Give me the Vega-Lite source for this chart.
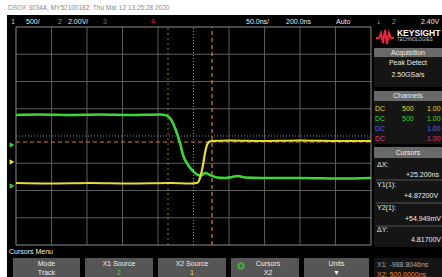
{
 "$schema": "https://vega.github.io/schema/vega-lite/v6.json",
 "width": 442, "height": 277, "autosize": {"type": "none"}, "padding": 0,
 "background": "#ffffff",
 "config": {"view": {"stroke": null}, "text": {"font": "Liberation Sans"}},
 "datasets": {
  "panels": [
   {"x": -5.254, "x2": 7.0, "y": 4.44, "y2": -5.174, "k": "bg"},
   {"x": 5.085, "x2": 7.0, "y": 3.229, "y2": 2.899, "k": "head"},
   {"x": 5.085, "x2": 7.0, "y": 2.899, "y2": 1.798, "k": "body"},
   {"x": 5.085, "x2": 7.0, "y": 1.651, "y2": 1.284, "k": "head"},
   {"x": 5.085, "x2": 7.0, "y": 1.284, "y2": -0.294, "k": "body"},
   {"x": 5.085, "x2": 7.0, "y": -0.404, "y2": -0.807, "k": "head"},
   {"x": 5.085, "x2": 7.0, "y": -0.807, "y2": -4.073, "k": "body"},
   {"x": 5.085, "x2": 7.0, "y": -4.477, "y2": -5.174, "k": "body"},
   {"x": -5.085, "x2": -3.197, "y": -4.477, "y2": -5.174, "k": "btn"},
   {"x": -3.056, "x2": -1.141, "y": -4.477, "y2": -5.174, "k": "btn"},
   {"x": -1.0, "x2": 0.915, "y": -4.477, "y2": -5.174, "k": "btn"},
   {"x": 1.056, "x2": 2.972, "y": -4.477, "y2": -5.174, "k": "btn"},
   {"x": 3.113, "x2": 4.944, "y": -4.477, "y2": -5.174, "k": "btn"}
  ],
  "grid": [
   {"x": -4, "x2": -4, "y": -4, "y2": 4}, {"x": -3, "x2": -3, "y": -4, "y2": 4},
   {"x": -2, "x2": -2, "y": -4, "y2": 4}, {"x": -1, "x2": -1, "y": -4, "y2": 4},
   {"x": 1, "x2": 1, "y": -4, "y2": 4}, {"x": 2, "x2": 2, "y": -4, "y2": 4},
   {"x": 3, "x2": 3, "y": -4, "y2": 4}, {"x": 4, "x2": 4, "y": -4, "y2": 4},
   {"x": -5, "x2": 5, "y": -3, "y2": -3}, {"x": -5, "x2": 5, "y": -2, "y2": -2},
   {"x": -5, "x2": 5, "y": -1, "y2": -1}, {"x": -5, "x2": 5, "y": 1, "y2": 1},
   {"x": -5, "x2": 5, "y": 2, "y2": 2}, {"x": -5, "x2": 5, "y": 3, "y2": 3}
  ],
  "center": [
   {"x": 0, "x2": 0, "y": -4, "y2": 4}, {"x": -5, "x2": 5, "y": 0, "y2": 0}
  ],
  "frame": [{"x": -5, "x2": 5, "y": -4, "y2": 4}],
  "curMain": [
   {"x": -5, "x2": 5, "y": -0.22, "y2": -0.22},
   {"x": 0.521, "x2": 0.521, "y": -4, "y2": 4}
  ],
  "curX1": [{"x": -0.718, "x2": -0.718, "y": -4, "y2": 4}],
  "sep": [
   {"x": 5.141, "x2": 7.0, "y": -1.615, "y2": -1.615},
   {"x": 5.141, "x2": 7.0, "y": -2.459, "y2": -2.459},
   {"x": 5.141, "x2": 7.0, "y": -3.303, "y2": -3.303}
  ],
  "ch2": [
   {"x": -5.0, "y": 0.771}, {"x": -4.324, "y": 0.789}, {"x": -3.479, "y": 0.771},
   {"x": -2.634, "y": 0.789}, {"x": -1.789, "y": 0.771}, {"x": -0.944, "y": 0.789},
   {"x": -0.803, "y": 0.771}, {"x": -0.662, "y": 0.661}, {"x": -0.521, "y": 0.294},
   {"x": -0.38, "y": -0.257}, {"x": -0.296, "y": -0.697}, {"x": -0.155, "y": -1.064},
   {"x": -0.014, "y": -1.284}, {"x": 0.127, "y": -1.431}, {"x": 0.211, "y": -1.45},
   {"x": 0.324, "y": -1.358}, {"x": 0.465, "y": -1.431}, {"x": 0.662, "y": -1.523},
   {"x": 0.887, "y": -1.541}, {"x": 1.085, "y": -1.505}, {"x": 1.254, "y": -1.468},
   {"x": 1.451, "y": -1.523}, {"x": 1.873, "y": -1.541}, {"x": 3.0, "y": -1.541},
   {"x": 4.127, "y": -1.56}, {"x": 5.0, "y": -1.541}
  ],
  "ch1": [
   {"x": -5.0, "y": -1.725}, {"x": -4.042, "y": -1.743}, {"x": -2.915, "y": -1.725},
   {"x": -1.789, "y": -1.743}, {"x": -0.662, "y": -1.725}, {"x": -0.099, "y": -1.743},
   {"x": 0.099, "y": -1.725}, {"x": 0.183, "y": -1.541}, {"x": 0.268, "y": -1.064},
   {"x": 0.324, "y": -0.624}, {"x": 0.38, "y": -0.33}, {"x": 0.437, "y": -0.22},
   {"x": 0.521, "y": -0.183}, {"x": 1.028, "y": -0.165}, {"x": 1.873, "y": -0.183},
   {"x": 3.0, "y": -0.165}, {"x": 4.127, "y": -0.183}, {"x": 5.0, "y": -0.183}
  ],
  "logo": [
   {"x": 5.141, "y": 3.596}, {"x": 5.225, "y": 3.596}, {"x": 5.282, "y": 3.78},
   {"x": 5.338, "y": 3.413}, {"x": 5.394, "y": 3.89}, {"x": 5.451, "y": 3.376},
   {"x": 5.507, "y": 3.78}, {"x": 5.563, "y": 3.596}, {"x": 5.648, "y": 3.596}
  ],
  "markers": [
   {"x": -5.113, "y": -0.954, "k": "ch1"},
   {"x": -5.113, "y": -1.835, "k": "ch2"},
   {"x": -5.113, "y": -0.33, "k": "ch2"}
  ],
  "ring": [{"x": 1.338, "y": -4.771}],
  "title": [{"x": -5.225, "y": 4.697, "t": "DSOX 3034A, MY52100182: Thu Mar 12 13:25:28 2020"}],
  "tLeft": [
   {"x": -5.141, "y": 4.183, "t": "1", "k": "ch1"},
   {"x": -4.718, "y": 4.183, "t": "500/", "k": "white"},
   {"x": -3.817, "y": 4.183, "t": "2", "k": "ch2"},
   {"x": -3.535, "y": 4.183, "t": "2.00V/", "k": "white"},
   {"x": -2.549, "y": 4.183, "t": "3", "k": "ch3"},
   {"x": -1.197, "y": 4.183, "t": "4", "k": "red"},
   {"x": 1.479, "y": 4.183, "t": "50.0ns/", "k": "white"},
   {"x": 2.606, "y": 4.183, "t": "200.0ns", "k": "white"},
   {"x": 4.014, "y": 4.183, "t": "Auto", "k": "white"},
   {"x": 5.169, "y": 4.183, "t": "↓", "k": "white"},
   {"x": 5.592, "y": 4.183, "t": "2", "k": "ch2"},
   {"x": 6.408, "y": 4.183, "t": "2.40V", "k": "white"},
   {"x": 5.113, "y": 0.991, "t": "DC", "k": "ch1"},
   {"x": 5.873, "y": 0.991, "t": "500", "k": "ch1"},
   {"x": 6.577, "y": 0.991, "t": "1.00", "k": "ch1"},
   {"x": 5.113, "y": 0.624, "t": "DC", "k": "ch2"},
   {"x": 5.873, "y": 0.624, "t": "500", "k": "ch2"},
   {"x": 6.577, "y": 0.624, "t": "1.00", "k": "ch2"},
   {"x": 5.113, "y": 0.257, "t": "DC", "k": "ch3"},
   {"x": 6.577, "y": 0.257, "t": "1.00", "k": "ch3"},
   {"x": 5.113, "y": -0.11, "t": "DC", "k": "ch4"},
   {"x": 6.577, "y": -0.11, "t": "1.00", "k": "ch4"},
   {"x": 5.169, "y": -1.064, "t": "ΔX:", "k": "white"},
   {"x": 5.986, "y": -1.431, "t": "+25.200ns", "k": "white"},
   {"x": 5.169, "y": -1.798, "t": "Y1(1):", "k": "white"},
   {"x": 5.93, "y": -2.202, "t": "+4.87200V", "k": "white"},
   {"x": 5.169, "y": -2.642, "t": "Y2(1):", "k": "white"},
   {"x": 5.958, "y": -3.046, "t": "+54.949mV", "k": "white"},
   {"x": 5.169, "y": -3.45, "t": "ΔY:", "k": "white"},
   {"x": 6.127, "y": -3.817, "t": "4.81700V", "k": "white"},
   {"x": 5.169, "y": -4.734, "t": "X1: -988.8046ns", "k": "gray"},
   {"x": 5.169, "y": -5.083, "t": "X2: 500.0000ns", "k": "orange"},
   {"x": -5.197, "y": -4.257, "t": "Cursors Menu", "k": "white"}
  ],
  "tCenter": [
   {"x": 6.042, "y": 3.064, "t": "Acquisition", "k": "white"},
   {"x": 6.042, "y": 2.679, "t": "Peak Detect", "k": "white"},
   {"x": 6.042, "y": 2.239, "t": "2.50GSa/s", "k": "white"},
   {"x": 6.042, "y": 1.468, "t": "Channels", "k": "white"},
   {"x": 6.042, "y": -0.606, "t": "Cursors", "k": "white"},
   {"x": -4.141, "y": -4.697, "t": "Mode", "k": "white"},
   {"x": -4.141, "y": -5.028, "t": "Track", "k": "white"},
   {"x": -2.099, "y": -4.697, "t": "X1 Source", "k": "white"},
   {"x": -2.099, "y": -5.028, "t": "2", "k": "ch2"},
   {"x": -0.042, "y": -4.697, "t": "X2 Source", "k": "white"},
   {"x": -0.042, "y": -5.028, "t": "1", "k": "ch1"},
   {"x": 2.099, "y": -4.697, "t": "Cursors", "k": "white"},
   {"x": 2.099, "y": -5.028, "t": "X2", "k": "white"},
   {"x": 4.028, "y": -4.697, "t": "Units", "k": "white"},
   {"x": 4.028, "y": -5.028, "t": "▼", "k": "white"}
  ],
  "brand": [{"x": 5.732, "y": 3.78, "t": "KEYSIGHT"}],
  "brand2": [{"x": 5.732, "y": 3.523, "t": "TECHNOLOGIES"}]
 },
 "encoding": {
  "x": {"field": "x", "type": "quantitative", "scale": {"domain": [-5.4507, 7.0], "nice": false, "zero": false}, "axis": null},
  "y": {"field": "y", "type": "quantitative", "scale": {"domain": [-5.1743, 4.9908], "nice": false, "zero": false}, "axis": null}
 },
 "layer": [
  {"data": {"name": "panels"}, "mark": {"type": "rect"},
   "encoding": {"x2": {"field": "x2"}, "y2": {"field": "y2"},
    "color": {"field": "k", "type": "nominal", "legend": null,
     "scale": {"domain": ["bg", "head", "body", "btn", "white", "gray", "ch1", "ch2", "ch3", "ch4", "red", "orange"], "range": ["#000000", "#6a6a6a", "#151515", "#565656", "#ececec", "#a8a8b8", "#e8dc34", "#3fd43a", "#5060ff", "#e0307a", "#e8283c", "#e8892a"]}}}},
  {"data": {"name": "grid"}, "mark": {"type": "rule", "color": "#5e5e5e", "strokeWidth": 1},
   "encoding": {"x2": {"field": "x2"}, "y2": {"field": "y2"}}},
  {"data": {"name": "center"}, "mark": {"type": "rule", "color": "#8a8a8a", "strokeWidth": 1, "strokeDash": [1, 2]},
   "encoding": {"x2": {"field": "x2"}, "y2": {"field": "y2"}}},
  {"data": {"name": "frame"}, "mark": {"type": "rect", "fill": null, "stroke": "#8c8c8c", "strokeWidth": 1},
   "encoding": {"x2": {"field": "x2"}, "y2": {"field": "y2"}}},
  {"data": {"name": "sep"}, "mark": {"type": "rule", "color": "#555555", "strokeWidth": 1},
   "encoding": {"x2": {"field": "x2"}, "y2": {"field": "y2"}}},
  {"data": {"name": "curX1"}, "mark": {"type": "rule", "color": "#9a6a30", "strokeWidth": 1, "strokeDash": [2, 3]},
   "encoding": {"x2": {"field": "x2"}, "y2": {"field": "y2"}}},
  {"data": {"name": "curMain"}, "mark": {"type": "rule", "color": "#e0802a", "strokeWidth": 1.2, "strokeDash": [4, 3]},
   "encoding": {"x2": {"field": "x2"}, "y2": {"field": "y2"}}},
  {"data": {"name": "ch2"}, "mark": {"type": "line", "color": "#3fd43a", "strokeWidth": 2.6, "interpolate": "monotone"}, "encoding": {}},
  {"data": {"name": "ch1"}, "mark": {"type": "line", "color": "#e8dc34", "strokeWidth": 2.2, "interpolate": "monotone"}, "encoding": {}},
  {"data": {"name": "logo"}, "mark": {"type": "line", "color": "#e8283c", "strokeWidth": 2}, "encoding": {}},
  {"data": {"name": "markers"}, "mark": {"type": "point", "shape": "triangle-right", "filled": true, "size": 30, "opacity": 1},
   "encoding": {"color": {"field": "k", "type": "nominal", "legend": null,
     "scale": {"domain": ["bg", "head", "body", "btn", "white", "gray", "ch1", "ch2", "ch3", "ch4", "red", "orange"], "range": ["#000000", "#6a6a6a", "#151515", "#565656", "#ececec", "#a8a8b8", "#e8dc34", "#3fd43a", "#5060ff", "#e0307a", "#e8283c", "#e8892a"]}}}},
  {"data": {"name": "ring"}, "mark": {"type": "point", "shape": "circle", "filled": false, "size": 28, "color": "#3fd43a", "strokeWidth": 2}},
  {"data": {"name": "title"}, "mark": {"type": "text", "align": "left", "baseline": "middle", "fontSize": 6.5, "color": "#8a8a8a"},
   "encoding": {"text": {"field": "t"}}},
  {"data": {"name": "tLeft"}, "mark": {"type": "text", "align": "left", "baseline": "middle", "fontSize": 7},
   "encoding": {"text": {"field": "t"}, "color": {"field": "k", "type": "nominal", "legend": null,
     "scale": {"domain": ["bg", "head", "body", "btn", "white", "gray", "ch1", "ch2", "ch3", "ch4", "red", "orange"], "range": ["#000000", "#6a6a6a", "#151515", "#565656", "#ececec", "#a8a8b8", "#e8dc34", "#3fd43a", "#5060ff", "#e0307a", "#e8283c", "#e8892a"]}}}},
  {"data": {"name": "tCenter"}, "mark": {"type": "text", "align": "center", "baseline": "middle", "fontSize": 7},
   "encoding": {"text": {"field": "t"}, "color": {"field": "k", "type": "nominal", "legend": null,
     "scale": {"domain": ["bg", "head", "body", "btn", "white", "gray", "ch1", "ch2", "ch3", "ch4", "red", "orange"], "range": ["#000000", "#6a6a6a", "#151515", "#565656", "#ececec", "#a8a8b8", "#e8dc34", "#3fd43a", "#5060ff", "#e0307a", "#e8283c", "#e8892a"]}}}},
  {"data": {"name": "brand"}, "mark": {"type": "text", "align": "left", "baseline": "middle", "fontSize": 8.5, "fontWeight": "bold", "color": "#ffffff"},
   "encoding": {"text": {"field": "t"}}},
  {"data": {"name": "brand2"}, "mark": {"type": "text", "align": "left", "baseline": "middle", "fontSize": 4.5, "color": "#cccccc"},
   "encoding": {"text": {"field": "t"}}}
 ]
}
